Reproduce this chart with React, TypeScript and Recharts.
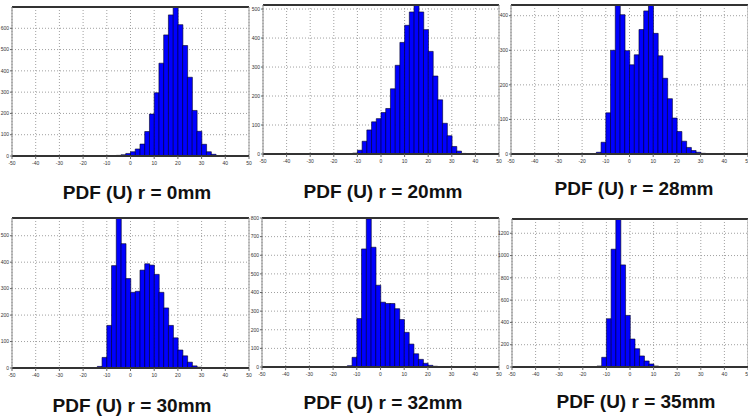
import React from 'react';
import { BarChart, Bar, XAxis, YAxis, CartesianGrid, ReferenceLine } from 'recharts';

// histogram bins are 2 units wide, spanning -50 .. 50
const BIN_STARTS = Array.from({ length: 50 }, (_, i) => -50 + 2 * i);
const X_TICKS = [-50, -40, -30, -20, -10, 0, 10, 20, 30, 40, 50];

// counts per bin, starting at the given bin edge
const r0Start = -6;
const r0Counts = [3, 6, 12, 20, 33, 56, 115, 197, 297, 436, 569, 663, 700, 617, 519, 370, 214, 116, 55, 20, 8];

const r20Start = -12;
const r20Counts = [3, 13, 44, 83, 111, 122, 143, 157, 225, 306, 385, 444, 490, 514, 490, 429, 354, 269, 187, 106, 63, 26, 10, 2];

const r28Start = -14;
const r28Counts = [5, 34, 119, 300, 431, 403, 299, 258, 287, 360, 414, 431, 349, 284, 219, 160, 104, 65, 37, 19, 10, 5, 2];

const r30Start = -14;
const r30Counts = [6, 40, 161, 387, 567, 470, 338, 286, 290, 370, 394, 389, 354, 286, 227, 161, 114, 68, 46, 22, 8, 3];

const r32Start = -14;
const r32Counts = [7, 52, 260, 634, 795, 643, 439, 348, 341, 341, 313, 255, 186, 123, 71, 41, 20, 9, 4];

const r35Start = -14;
const r35Counts = [9, 87, 433, 1057, 1328, 916, 463, 251, 164, 99, 54, 27, 9, 3];

const AXIS_W = 12;
const AXIS_H = 14;
const tickFont = { fontSize: 5, fill: '#333', fontFamily: 'Liberation Sans, Arial, sans-serif' };

const toRows = (start: number, counts: number[]) =>
  BIN_STARTS.map((bin) => {
    const i = (bin - start) / 2;
    return { bin, count: i >= 0 && i < counts.length ? counts[i] : 0 };
  });

type HistProps = {
  rows: { bin: number; count: number }[];
  yMax: number;
  yTicks: number[];
  left: number;
  top: number;
  right: number;
  bottom: number;
};

const Histogram: React.FC<HistProps> = ({ rows, yMax, yTicks, left, top, right, bottom }) => (
  <div style={{ position: 'absolute', left: left - AXIS_W, top }}>
    <BarChart
      width={right - left + AXIS_W}
      height={bottom - top + AXIS_H}
      data={rows}
      margin={{ top: 0, right: 0, bottom: 0, left: 0 }}
      barCategoryGap={0}
      barGap={0}
    >
      <CartesianGrid xAxisId="num" yAxisId="y" stroke="#a0a0a0" strokeDasharray="1 2" />
      {/* band axis that places the bins; kept on top so it doesn't push the value axis down */}
      <XAxis xAxisId="bins" dataKey="bin" orientation="top" height={0} hide />
      <XAxis
        xAxisId="num"
        dataKey="bin"
        type="number"
        domain={[-50, 50]}
        allowDataOverflow
        ticks={X_TICKS}
        interval={0}
        height={AXIS_H}
        tickSize={3}
        tickMargin={2}
        tick={tickFont}
        tickLine={{ stroke: '#666' }}
        axisLine={{ stroke: '#333', strokeWidth: 2 }}
      />
      <YAxis
        yAxisId="y"
        type="number"
        domain={[0, yMax]}
        allowDataOverflow
        ticks={yTicks}
        interval={0}
        width={AXIS_W}
        tickSize={2}
        tickMargin={1}
        tick={tickFont}
        tickLine={{ stroke: '#666' }}
        axisLine={{ stroke: '#888' }}
      />
      <Bar
        xAxisId="bins"
        yAxisId="y"
        dataKey="count"
        fill="#0000ff"
        stroke="#000022"
        strokeWidth={0.6}
        isAnimationActive={false}
      />
      <ReferenceLine xAxisId="num" yAxisId="y" y={yMax} stroke="#333" strokeWidth={2} />
      <ReferenceLine xAxisId="num" yAxisId="y" x={50} stroke="#999" />
    </BarChart>
  </div>
);

const Title: React.FC<{ text: string; cx: number; capTop: number }> = ({ text, cx, capTop }) => (
  <div
    style={{
      position: 'absolute',
      left: cx - 100,
      width: 200,
      top: capTop - 2.5,
      textAlign: 'center',
      fontFamily: 'Liberation Sans, Arial, sans-serif',
      fontWeight: 'bold',
      fontSize: 19,
      lineHeight: '19px',
      color: '#111',
      whiteSpace: 'nowrap',
    }}
  >
    {text}
  </div>
);

export default function App() {
  return (
    <div style={{ position: 'absolute', left: 0, top: 0, width: 748, height: 419, background: '#fff', overflow: 'hidden' }}>
      {/* let the edge tick labels spill past each chart's box */}
      <style>{'.recharts-surface { overflow: visible; }'}</style>
      <Histogram rows={toRows(r0Start, r0Counts)} yMax={700} yTicks={[0, 100, 200, 300, 400, 500, 600]} left={12} top={7} right={249} bottom={156} />
      <Histogram rows={toRows(r20Start, r20Counts)} yMax={514} yTicks={[0, 100, 200, 300, 400, 500]} left={263} top={5} right={499} bottom={154} />
      <Histogram rows={toRows(r28Start, r28Counts)} yMax={431} yTicks={[0, 100, 200, 300, 400]} left={511} top={5} right={748} bottom={154} />
      <Histogram rows={toRows(r30Start, r30Counts)} yMax={567} yTicks={[0, 100, 200, 300, 400, 500]} left={12} top={218} right={249} bottom={368} />
      <Histogram rows={toRows(r32Start, r32Counts)} yMax={800} yTicks={[0, 100, 200, 300, 400, 500, 600, 700, 800]} left={262} top={218} right={499} bottom={367} />
      <Histogram rows={toRows(r35Start, r35Counts)} yMax={1328} yTicks={[0, 200, 400, 600, 800, 1000, 1200]} left={512} top={219} right={748} bottom={367} />

      <Title text="PDF (U) r = 0mm" cx={137} capTop={185} />
      <Title text="PDF (U) r = 20mm" cx={383} capTop={184} />
      <Title text="PDF (U) r = 28mm" cx={634} capTop={181} />
      <Title text="PDF (U) r = 30mm" cx={132} capTop={398} />
      <Title text="PDF (U) r = 32mm" cx={383} capTop={395} />
      <Title text="PDF (U) r = 35mm" cx={636} capTop={394} />
    </div>
  );
}
